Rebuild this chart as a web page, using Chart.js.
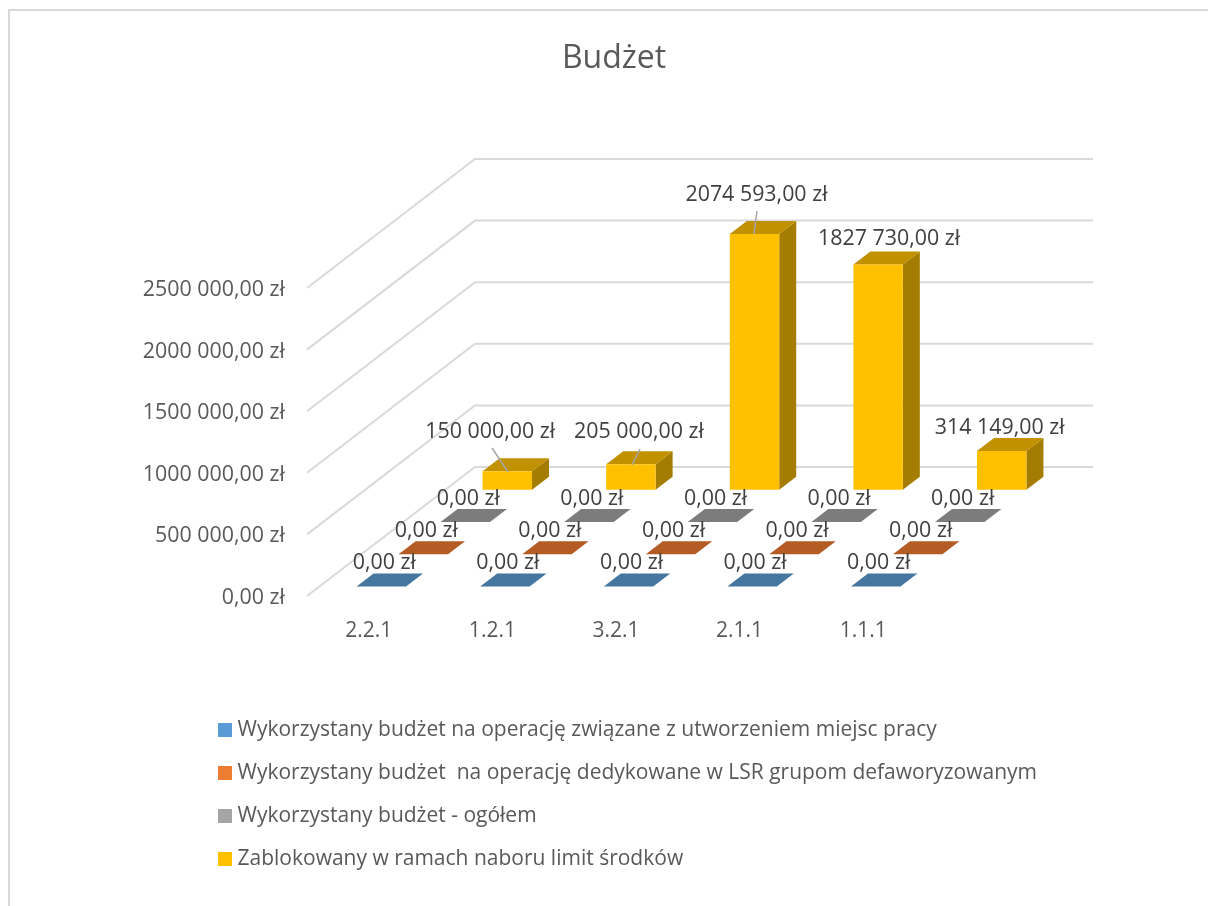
<!DOCTYPE html>
<html lang="pl">
<head>
<meta charset="utf-8">
<title>Budżet</title>
<style>html,body{margin:0;padding:0;background:#fff}canvas{display:block}</style>
<script src="https://cdn.jsdelivr.net/npm/chart.js@4"></script>
</head>
<body>
<canvas id="c" width="1208" height="906"></canvas>
<script>
const categories = ['2.2.1', '1.2.1', '3.2.1', '2.1.1', '1.1.1'];
const seriesNames = [
  'Wykorzystany budżet na operację związane z utworzeniem miejsc pracy',
  'Wykorzystany budżet  na operację dedykowane w LSR grupom defaworyzowanym',
  'Wykorzystany budżet - ogółem',
  'Zablokowany w ramach naboru limit środków'
];
const usedJobs = [0, 0, 0, 0, 0];
const usedDisadvantaged = [0, 0, 0, 0, 0];
const usedTotal = [0, 0, 0, 0, 0];
const blockedLimit = [150000, 205000, 2074593, 1827730, 314149];
const seriesValues = [usedJobs, usedDisadvantaged, usedTotal, blockedLimit];

const frontColors = ['#5B9BD5', '#ED7D31', '#A5A5A5', '#FFC000'];
const topColors = ['#44769F', '#B55B24', '#7C7C7C', '#C19100'];
const sideColors = ['#34597A', '#8E4A1F', '#666666', '#A47D00'];

const FONT = '"Open Sans", "Noto Sans", sans-serif';
const TEXT = '#595959', LABEL = '#404040', GRID = '#D9D9D9';
const WALL_DX = 168, WALL_DY = -129;          // floor depth of the 3D box
const BAR_DX = 17, BAR_DY = -13;              // depth of one bar
const LEGEND_GAP = 22;

// label placement relative to the bar top, and whether a leader line is drawn
const zeroLabelShift = [3, -23];
const blockedLabelShift = [[-17, -39], [8, -32], [2, -39], [11, -26], [-2, -23]];
const blockedLeader = [[[492, 448], [508, 472]], [[640, 449], [632, 465]], [[757, 211], [754, 234]], null, null];

function money(v) {
  const hi = Math.floor(v / 1000), lo = v % 1000;
  const whole = hi > 0 ? hi + ' ' + String(lo).padStart(3, '0') : String(lo);
  return whole + ',00 zł';
}
function slot(i) {
  const n = seriesValues.length;
  const sx = WALL_DX / n, sy = WALL_DY / n;
  return [i * sx + (sx - BAR_DX) / 2, i * sy + (sy - BAR_DY) / 2];
}
function swatch(color) {
  const s = document.createElement('canvas');
  s.width = 14; s.height = 14;
  const g = s.getContext('2d');
  g.fillStyle = color; g.fillRect(0, 0, 14, 14);
  return s;
}

const box3d = {
  id: 'box3d',
  beforeDatasetsDraw(chart) {
    const { ctx } = chart;
    const x = chart.scales.x, y = chart.scales.y;
    ctx.save();
    ctx.strokeStyle = GRID; ctx.lineWidth = 2;
    ctx.strokeRect(9, 10, 1300, 1000);
    ctx.beginPath();
    y.ticks.forEach(t => {
      const py = y.getPixelForValue(t.value);
      ctx.moveTo(x.left, py);
      ctx.lineTo(x.left + WALL_DX, py + WALL_DY);
      ctx.lineTo(x.right + WALL_DX, py + WALL_DY);
    });
    ctx.stroke();
    ctx.restore();
  },
  beforeDatasetDraw(chart, args) {
    const { ctx } = chart;
    const [dx, dy] = slot(args.index);
    ctx.save();
    ctx.translate(dx, dy);
    chart.getDatasetMeta(args.index).data.forEach(b => {
      const l = b.x - b.width / 2, r = b.x + b.width / 2, t = b.y, bot = b.base;
      ctx.fillStyle = sideColors[args.index];
      ctx.beginPath();
      ctx.moveTo(r, t); ctx.lineTo(r + BAR_DX, t + BAR_DY);
      ctx.lineTo(r + BAR_DX, bot + BAR_DY); ctx.lineTo(r, bot);
      ctx.closePath(); ctx.fill();
      ctx.fillStyle = topColors[args.index];
      ctx.beginPath();
      ctx.moveTo(l, t); ctx.lineTo(r, t);
      ctx.lineTo(r + BAR_DX, t + BAR_DY); ctx.lineTo(l + BAR_DX, t + BAR_DY);
      ctx.closePath(); ctx.fill();
    });
  },
  afterDatasetDraw(chart) { chart.ctx.restore(); },
  afterDatasetsDraw(chart) {
    const { ctx } = chart;
    ctx.save();
    ctx.strokeStyle = '#A6A6A6'; ctx.lineWidth = 1.5;
    blockedLeader.forEach(seg => {
      if (!seg) return;
      ctx.beginPath();
      ctx.moveTo(seg[0][0], seg[0][1]); ctx.lineTo(seg[1][0], seg[1][1]);
      ctx.stroke();
    });
    ctx.fillStyle = LABEL;
    ctx.font = '21.4px ' + FONT;
    ctx.textAlign = 'center'; ctx.textBaseline = 'middle';
    chart.data.datasets.forEach((ds, i) => {
      const [dx, dy] = slot(i);
      chart.getDatasetMeta(i).data.forEach((b, j) => {
        const v = ds.data[j];
        const s = v === 0 ? zeroLabelShift : blockedLabelShift[j];
        ctx.fillText(money(v), b.x + dx + s[0], b.y + dy + s[1]);
      });
    });
    ctx.restore();
  },
  beforeDraw(chart) {
    const t = chart.titleBlock;
    t.left = 20; t.right = 1208;
    const lg = chart.legend;
    lg.left = 223 - LEGEND_GAP; lg.right = 1208; lg.top = 697.5; lg.bottom = 906;
    lg.width = lg.right - lg.left; lg.height = lg.bottom - lg.top;
  }
};

new Chart(document.getElementById('c'), {
  type: 'bar',
  data: {
    labels: categories,
    datasets: seriesValues.map((vals, i) => ({
      label: seriesNames[i],
      data: vals,
      backgroundColor: frontColors[i],
      borderWidth: 0,
      grouped: false,
      clip: false,
      barPercentage: 0.4,
      categoryPercentage: 1
    }))
  },
  plugins: [box3d],
  options: {
    responsive: false,
    animation: false,
    layout: { padding: { left: 0, top: 0, right: 283, bottom: 260 } },
    scales: {
      x: {
        grid: { display: false },
        border: { display: false },
        ticks: { color: TEXT, padding: 14, font: { family: FONT, size: 21 }, maxRotation: 0 },
        afterFit(s) { s.height = 50; }
      },
      y: {
        min: 0, max: 2500000,
        grid: { display: false },
        border: { display: false },
        ticks: { stepSize: 500000, color: TEXT, padding: 14, labelOffset: 2, font: { family: FONT, size: 21.4 }, callback: v => money(v) },
        afterFit(s) { s.width = 307; }
      }
    },
    plugins: {
      title: {
        display: true, text: 'Budżet', color: TEXT,
        font: { family: FONT, size: 32, weight: 'normal', lineHeight: 1.2 },
        padding: { top: 40, bottom: 209.6 }
      },
      tooltip: { enabled: false },
      legend: {
        position: 'chartArea',
        align: 'start',
        labels: {
          usePointStyle: true,
          pointStyleWidth: 4,
          boxHeight: 14,
          padding: LEGEND_GAP,
          color: TEXT,
          font: { family: FONT, size: 21, lineHeight: 1.2 },
          generateLabels(chart) {
            return Chart.defaults.plugins.legend.labels.generateLabels(chart).map((it, i) => {
              it.pointStyle = swatch(frontColors[i]);
              return it;
            });
          }
        }
      }
    }
  }
});
</script>
</body>
</html>
